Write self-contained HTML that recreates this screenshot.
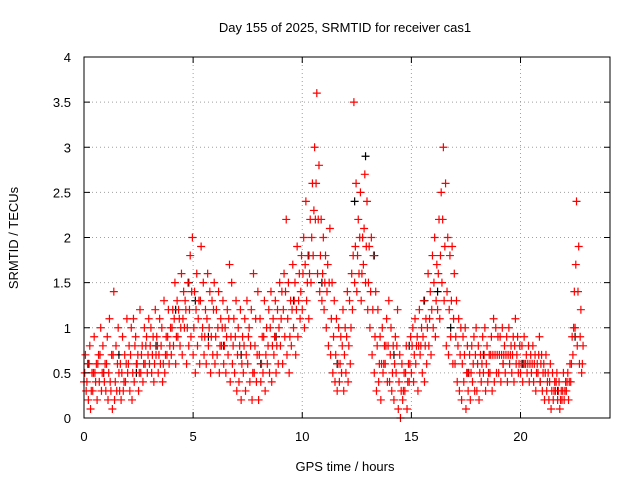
<!DOCTYPE html>
<html><head><meta charset="utf-8"><style>
body{margin:0;background:#fff}
svg{display:block;font-family:"Liberation Sans",sans-serif;font-size:13px}
</style></head><body>
<svg id="c" width="640" height="480">
<text x="345" y="32" text-anchor="middle">Day 155 of 2025, SRMTID for receiver cas1</text>
<text x="345" y="471" text-anchor="middle">GPS time / hours</text>
<text transform="translate(18,238) rotate(-90)" text-anchor="middle">SRMTID / TECUs</text>
<g id="grid"></g><g id="marks"></g><g id="axes"></g>
</svg>
<script>
const xTicks=[0,5,10,15,20];
const yTicks=[0,0.5,1,1.5,2,2.5,3,3.5,4];
const yTickLabels=["0","0.5","1","1.5","2","2.5","3","3.5","4"];
const timeStep=0.1;
const redUpper=[.7,.6,.8,.5,.9,.6,.7,1.0,.8,.6, .9,1.1,.7,1.4,.8,1.0,.6,.9,.7,1.1, .8,1.0,1.1,.9,.7,1.2,.8,1.0,.9,1.1, 1.0,.9,1.2,.8,1.1,1.0,1.3,.9,1.2,1.0, 1.2,1.5,1.3,1.1,1.6,1.4,1.2,1.5,1.8,2.0, 1.4,1.6,1.3,1.9,1.5,1.2,1.6,1.4,1.3,1.5, 1.2,1.4,1.1,1.3,1.0,1.2,1.7,1.5,1.1,1.3, 1.0,1.2,.9,1.1,1.3,1.0,1.2,1.6,1.1,1.4, 1.1,.9,1.3,1.0,1.2,1.4,1.1,1.3,1.2,1.5, 1.4,1.6,2.2,1.5,1.3,1.7,1.5,1.9,1.6,1.8, 2.0,2.4,1.8,2.2,2.6,3.0,3.6,2.8,2.2,2.0, 1.8,1.7,2.1,1.5,1.3,1.1,1.0,.9,1.2,1.0, 1.4,1.3,1.6,3.5,2.6,2.2,2.5,2.0,2.7,2.4, 1.9,2.0,1.8,1.4,1.2,.9,1.0,.8,1.1,1.3, 1.0,.8,.9,1.2,.7,.6,.5,.8,.6,.9, 1.0,1.1,.9,1.2,1.0,1.3,1.1,1.6,1.4,1.8, 2.0,1.7,2.2,2.5,3.0,2.6,2.0,1.8,1.9,1.6, 1.3,1.1,1.0,.9,1.0,.8,.7,.8,.9,1.0, .8,.7,.9,1.0,.8,.7,.9,1.1,1.0,.9, .9,1.0,.8,.9,1.0,.8,.9,1.1,.9,.8, .8,.9,.7,.8,.7,.8,.7,.6,.9,.7, .6,.7,.5,.6,.5,.4,.5,.4,.3,.5, .4,.5,.6,.9,1.4,2.4,1.9,1.2,.8];
const redLower=[.4,.3,.2,.1,.3,.5,.2,.4,.3,.5, .3,.2,.4,.1,.2,.3,.5,.2,.3,.4, .5,.3,.2,.4,.6,.3,.5,.4,.6,.5, .6,.5,.4,.7,.5,.6,.4,.5,.7,.6, .7,.8,.6,.9,.8,.7,1.0,.6,.8,.9, .7,.5,.8,.6,.9,.7,.6,.8,.5,.7, .6,.7,.5,.8,.6,.5,.7,.4,.6,.5, .3,.4,.2,.5,.3,.6,.4,.2,.5,.4, .2,.4,.5,.3,.6,.5,.4,.7,.5,.6, .8,.6,.9,.7,.5,.8,1.0,.7,.9,1.1, 1.2,1.0,1.3,1.1,1.5,1.8,2.2,1.6,1.4,1.3, 1.2,1.0,.8,.7,.5,.4,.3,.4,.5,.3, .5,.4,.6,1.2,1.5,1.4,1.6,1.3,1.7,1.5, 1.2,1.0,.7,.5,.3,.4,.2,.5,.6,.4, .4,.3,.2,.5,.1,.0,.2,.3,.1,.4, .5,.4,.6,.3,.7,.5,.4,.6,.8,.7, 1.0,.9,1.2,1.1,1.5,1.3,.8,.7,.9,.6, .6,.4,.3,.2,.4,.1,.3,.2,.4,.3, .3,.2,.4,.5,.3,.4,.5,.3,.4,.5, .5,.4,.6,.5,.4,.6,.5,.4,.6,.5, .5,.4,.6,.5,.4,.5,.4,.3,.5,.4, .3,.2,.3,.2,.1,.2,.3,.2,.1,.2, .2,.3,.2,.4,.7,1.0,.8,.6,.5];
const redMid=[.5,.4,.6,.3,.5,.4,.6,.7,.5,.4, .6,.5,.3,.7,.4,.6,.3,.5,.4,.6, .6,.7,.5,.8,.6,.5,.7,.6,.8,.7, .8,.7,.6,.9,.7,.8,.6,.7,.9,.8, 1.0,1.1,.9,1.2,1.0,1.1,1.3,1.0,1.2,1.4, 1.0,1.2,1.1,1.3,1.0,.9,1.1,1.0,.9,1.2, .9,1.0,.8,1.0,.8,.9,1.1,.9,.8,.9, .7,.8,.6,.8,.7,.9,.8,.5,.8,.7, .7,.6,.9,.7,.8,1.0,.8,.9,.8,1.0, 1.1,1.2,1.4,1.1,.9,1.2,1.3,1.2,1.3,1.4, 1.6,1.7,1.5,1.6,2.0,2.3,2.6,2.2,1.8,1.6, 1.5,1.4,1.5,1.1,.9,.7,.6,.6,.8,.7, .9,.8,1.0,1.8,1.9,1.8,2.0,1.6,2.1,1.9, 1.5,1.4,1.2,.9,.8,.6,.6,.6,.8,.8, .7,.5,.6,.8,.4,.3,.3,.5,.4,.6, .8,.7,.8,.8,.8,.9,.8,1.0,1.1,1.2, 1.5,1.3,1.6,1.8,2.2,1.9,1.4,1.2,1.3,1.1, .9,.8,.7,.6,.7,.5,.5,.5,.6,.7, .6,.5,.6,.7,.6,.5,.7,.7,.7,.7, .7,.7,.7,.7,.7,.7,.7,.8,.7,.6, .6,.6,.6,.6,.6,.6,.6,.5,.7,.6, .5,.5,.4,.4,.3,.3,.4,.3,.2,.3, .3,.4,.4,.6,1.0,1.7,1.4,.9,.6];
const blackTimes=[0.2,0.9,1.6,2.4,3.3,4.2,4.8,5.1,5.7,6.4,7.2,8.1,8.8,9.6,10.3,10.9,11.6,12.4,12.9,13.3,14.2,14.9,15.6,16.2,16.8,17.6,18.3,19.2,20.1,20.9,21.7,22.5];
const blackValues=[0.6,0.5,0.7,0.5,0.8,1.2,1.5,1.3,0.9,0.8,0.7,0.6,0.9,1.3,1.8,1.5,0.6,2.4,2.9,1.8,0.7,0.8,1.3,1.4,1.0,0.5,0.7,0.6,0.6,0.4,0.3,0.9];

const X0=84,X1=610,Y0=418,Y1=57,XMAX=24.1,YMAX=4;
const xs=t=>X0+t/XMAX*(X1-X0);
const ys=v=>Y0-v/YMAX*(Y0-Y1);
const NS="http://www.w3.org/2000/svg";
function mk(tag,attrs,parent){const e=document.createElementNS(NS,tag);for(const k in attrs)e.setAttribute(k,attrs[k]);parent.appendChild(e);return e;}
const grid=document.getElementById('grid'),marks=document.getElementById('marks'),axes=document.getElementById('axes');
xTicks.forEach(t=>{const x=xs(t);
 if(t>0){const g=mk('line',{x1:x,x2:x,y1:Y1,y2:Y0,stroke:'#a0a0a0','stroke-dasharray':'1,3'},grid);
 
 }
 const tk=mk('path',{d:`M${x},${Y0}v-6M${x},${Y1}v6`,stroke:'#000'},axes);
 
 
 const lb=mk('text',{x:x,y:Y0+23,'text-anchor':'middle'},axes);lb.textContent=String(t);
 
 
});
yTicks.forEach((v,i)=>{const y=ys(v);
 if(v>0&&v<YMAX){const g=mk('line',{x1:X0,x2:X1,y1:y,y2:y,stroke:'#a0a0a0','stroke-dasharray':'1,3'},grid);
 
 }
 const tk=mk('path',{d:`M${X0},${y}h6M${X1},${y}h-6`,stroke:'#000'},axes);
 
 
 const lb=mk('text',{x:X0-13,y:y+5,'text-anchor':'end'},axes);lb.textContent=yTickLabels[i];
 
 
});
const frame=mk('rect',{x:X0,y:Y1,width:X1-X0,height:Y0-Y1,fill:'none',stroke:'#000'},axes);


function plus(t,v,col,name){const x=xs(t),y=ys(v);
 const p=mk('path',{d:`M${x-4},${y}h8M${x},${y-4}v8`,stroke:col,'stroke-width':1.2},marks);
 
 }
blackTimes.forEach((t,i)=>plus(t,blackValues[i],'#000','black-point'));
[redLower,redMid,redUpper].forEach((arr,k)=>arr.forEach((v,i)=>plus(i*timeStep+k*0.033,v,'#ff0000','red-point')));
</script>
</body></html>
